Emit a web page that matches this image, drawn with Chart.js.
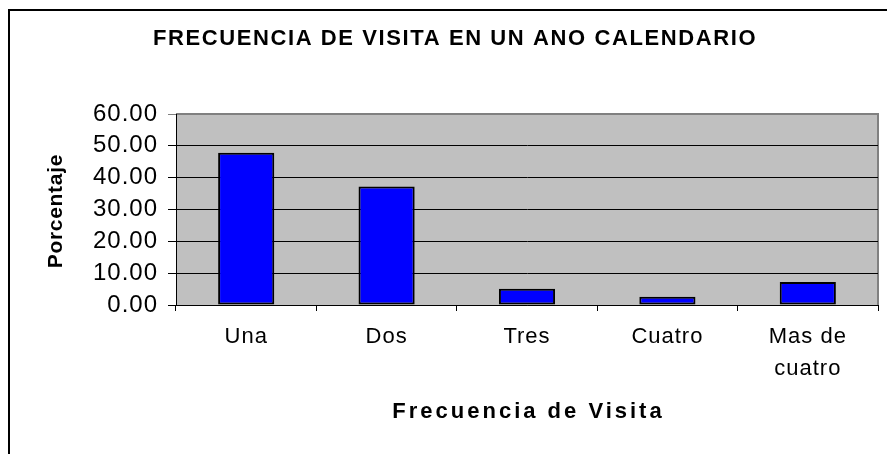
<!DOCTYPE html>
<html>
<head>
<meta charset="utf-8">
<script src="https://cdn.jsdelivr.net/npm/chart.js@4"></script>
<style>
    body { margin: 0; background: #fff; }
    #wrap { width: 887px; height: 454px; }
</style>
</head>
<body>
<div id="wrap"><canvas id="visitChart" width="887" height="454"></canvas></div>
<script>
// Data
const categories = ['Una', 'Dos', 'Tres', 'Cuatro', ['Mas de', 'cuatro']];
const porcentaje = [47.8, 37.2, 5.1, 2.6, 7.2];
const yTicks = [0, 10, 20, 30, 40, 50, 60];

const chartTitle = 'FRECUENCIA DE VISITA EN UN ANO CALENDARIO';
const xTitle = 'Frecuencia de Visita';
const yTitle = 'Porcentaje';

const FONT = "'Liberation Sans', Arial, sans-serif";
Chart.defaults.font.family = FONT;
Chart.defaults.color = '#000';

// gray plot background, frame and the titles (drawn with letter spacing)
const excelLook = {
    id: 'excelLook',
    beforeDraw(chart) {
        const { ctx, chartArea: a } = chart;
        ctx.save();
        ctx.fillStyle = '#000';
        ctx.fillRect(8, 9, 879, 2);
        ctx.fillRect(8, 9, 2, 445);
        ctx.fillStyle = '#c0c0c0';
        ctx.fillRect(a.left, a.top, a.right - a.left, a.bottom - a.top);
        ctx.strokeStyle = '#808080';
        ctx.lineWidth = 2;
        ctx.beginPath();
        ctx.moveTo(a.left, a.top);
        ctx.lineTo(a.right, a.top);
        ctx.lineTo(a.right, a.bottom);
        ctx.stroke();
        ctx.restore();
        ctx.letterSpacing = '1px';
    },
    afterDraw(chart) {
        const { ctx, chartArea: a } = chart;
        ctx.save();
        ctx.fillStyle = '#000';
        ctx.textAlign = 'center';
        ctx.textBaseline = 'middle';

        ctx.font = 'bold 22px ' + FONT;
        ctx.letterSpacing = '1.6px';
        ctx.fillText(chartTitle, 455, 39);

        ctx.font = 'bold 22px ' + FONT;
        ctx.letterSpacing = '3px';
        ctx.fillText(xTitle, (a.left + a.right) / 2 + 1.5, 412);

        ctx.font = 'bold 21px ' + FONT;
        ctx.letterSpacing = '0.7px';
        ctx.translate(56, (a.top + a.bottom) / 2 + 2);
        ctx.rotate(-Math.PI / 2);
        ctx.fillText(yTitle, 0.4, 0);
        ctx.restore();
        ctx.letterSpacing = '0px';
    }
};

new Chart(document.getElementById('visitChart'), {
    type: 'bar',
    data: {
        labels: categories,
        datasets: [{
            label: yTitle,
            data: porcentaje,
            backgroundColor: '#0000ff',
            borderColor: '#000',
            borderWidth: 2,
            borderSkipped: false,
            barPercentage: 0.8,
            categoryPercentage: 0.5
        }]
    },
    options: {
        responsive: false,
        animation: false,
        layout: { padding: { left: 0, right: 9, top: 114, bottom: 0 } },
        plugins: {
            legend: { display: false },
            tooltip: { enabled: false },
            title: { display: false }
        },
        scales: {
            x: {
                afterFit(scale) { scale.height = 149; },
                grid: {
                    offset: true,
                    drawOnChartArea: false,
                    drawTicks: true,
                    tickLength: 6,
                    color: '#000'
                },
                border: { color: '#000', width: 1 },
                ticks: {
                    font: { size: 22, lineHeight: 1.45 },
                    padding: 10,
                    maxRotation: 0,
                    autoSkip: false
                }
            },
            y: {
                min: 0,
                max: 60,
                afterFit(scale) { scale.width = 176; },
                afterBuildTicks(scale) { scale.ticks = yTicks.map(v => ({ value: v })); },
                grid: {
                    color: ctx => (ctx.tick && ctx.tick.value === 60) ? '#808080' : '#000',
                    lineWidth: 1,
                    tickLength: 8
                },
                border: { color: '#000', width: 1 },
                ticks: {
                    font: { size: 24 },
                    padding: 10,
                    callback: v => Number(v).toFixed(2)
                }
            }
        }
    },
    plugins: [excelLook]
});
</script>
</body>
</html>
